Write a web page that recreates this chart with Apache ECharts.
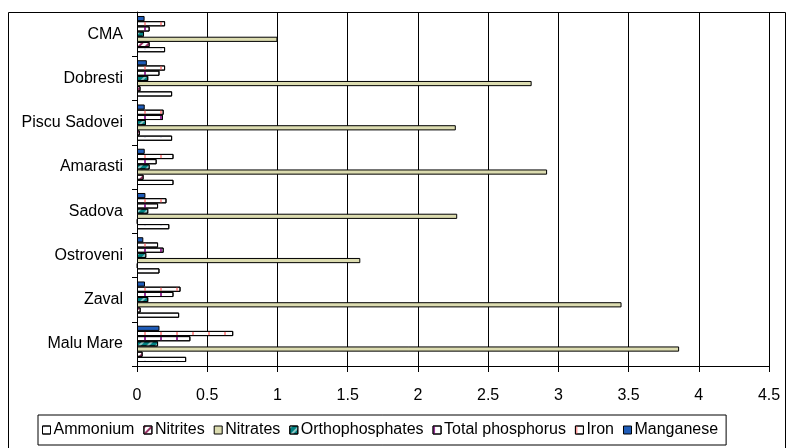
<!DOCTYPE html>
<html>
<head>
<meta charset="utf-8">
<script src="https://cdn.jsdelivr.net/npm/echarts@6/dist/echarts.min.js"></script>
<style>
html,body{margin:0;padding:0;background:#fff;}
#chart{width:787px;height:448px;}
</style>
</head>
<body>
<div id="chart"></div>
<script>
// Categories, bottom to top
var categories = ['Malu Mare', 'Zaval', 'Ostroveni', 'Sadova', 'Amarasti', 'Piscu Sadovei', 'Dobresti', 'CMA'];
var seriesNames = ['Ammonium', 'Nitrites', 'Nitrates', 'Orthophosphates', 'Total phosphorus', 'Iron', 'Manganese'];
var ammonium        = [0.35, 0.30, 0.16, 0.23, 0.26, 0.25, 0.25, 0.20];
var nitrites        = [0.04, 0.026, 0.005, 0.005, 0.047, 0.02, 0.025, 0.09];
var nitrates        = [3.86, 3.45, 1.59, 2.28, 2.92, 2.27, 2.81, 1.00];
var orthophosphates = [0.15, 0.08, 0.066, 0.08, 0.09, 0.064, 0.08, 0.05];
var totalPhosphorus = [0.38, 0.26, 0.19, 0.15, 0.14, 0.185, 0.16, 0.09];
var iron            = [0.685, 0.31, 0.15, 0.21, 0.26, 0.19, 0.20, 0.20];
var manganese       = [0.16, 0.057, 0.045, 0.06, 0.055, 0.055, 0.07, 0.054];
var xTicks = { min: 0, max: 4.5, interval: 0.5 };

var FONT = "'Liberation Sans', Arial, sans-serif";

var styles = [
  { color: '#ffffff', decal: { symbol: 'circle', symbolSize: 0.5, color: '#8080c0', dashArrayX: [2, 14], dashArrayY: [2, 6] } },
  { color: '#ffffff', decal: { symbol: 'rect', symbolSize: 1, color: '#993366', dashArrayX: [2, 3], dashArrayY: [20, 0], rotation: Math.PI / 4 } },
  { color: '#dcdcb0', decal: null },
  { color: '#008080', decal: { symbol: 'rect', symbolSize: 1, color: 'rgba(255,255,255,0.55)', dashArrayX: [2, 4], dashArrayY: [20, 0], rotation: Math.PI / 4 } },
  { color: '#ffffff', decal: { symbol: 'rect', symbolSize: 1, color: '#993399', dashArrayX: [2, 14], dashArrayY: [20, 0] } },
  { color: '#ffffff', decal: { symbol: 'rect', symbolSize: 1, color: '#ff9999', dashArrayX: [2, 14], dashArrayY: [20, 0] } },
  { color: '#1f5cb8', decal: null }
];
var dataArrays = [ammonium, nitrites, nitrates, orthophosphates, totalPhosphorus, iron, manganese];

// ECharts lays horizontal bar series top-down within a group, so add them in
// reverse to keep Ammonium at the bottom of each group like the reference.
var series = [];
for (var i = seriesNames.length - 1; i >= 0; i--) {
  var is = { color: styles[i].color, borderColor: '#000', borderWidth: 1 };
  if (styles[i].decal) is.decal = styles[i].decal;
  series.push({
    name: seriesNames[i],
    type: 'bar',
    data: dataArrays[i],
    barGap: '0%',
    barCategoryGap: '18%',
    itemStyle: is,
    emphasis: { disabled: true },
    animation: false
  });
}

var chart = echarts.init(document.getElementById('chart'), null, { renderer: 'canvas' });
chart.setOption({
  backgroundColor: '#ffffff',
  animation: false,
  grid: { left: 137, right: 18, top: 12, bottom: 82, containLabel: false },
  xAxis: {
    type: 'value',
    min: xTicks.min, max: xTicks.max, interval: xTicks.interval,
    axisLine: { show: true, lineStyle: { color: '#000', width: 1 } },
    axisTick: { show: true, length: 6, lineStyle: { color: '#000' } },
    splitLine: { show: true, lineStyle: { color: '#000', width: 1 } },
    axisLabel: { color: '#000', fontFamily: FONT, fontSize: 16, margin: 22 }
  },
  yAxis: {
    type: 'category',
    data: categories,
    axisLine: { show: true, lineStyle: { color: '#000', width: 1 } },
    axisTick: { show: true, length: 5, lineStyle: { color: '#000' } },
    axisLabel: { color: '#000', fontFamily: FONT, fontSize: 16, margin: 14 }
  },
  legend: {
    data: seriesNames,
    left: 38, top: 415,
    icon: 'rect',
    itemWidth: 8, itemHeight: 8,
    itemGap: 9,
    padding: [7, 8, 7, 4],
    borderColor: '#000', borderWidth: 1,
    textStyle: { color: '#000', fontFamily: FONT, fontSize: 16, padding: [0, 0, 0, -2] },
    itemStyle: { borderColor: '#000', borderWidth: 1 }
  },
  graphic: [{
    type: 'rect',
    shape: { x: 8.5, y: 12.5, width: 777, height: 445 },
    style: { fill: 'none', stroke: '#000', lineWidth: 1 },
    silent: true,
    z: 100
  }],
  series: series
});
</script>
</body>
</html>
